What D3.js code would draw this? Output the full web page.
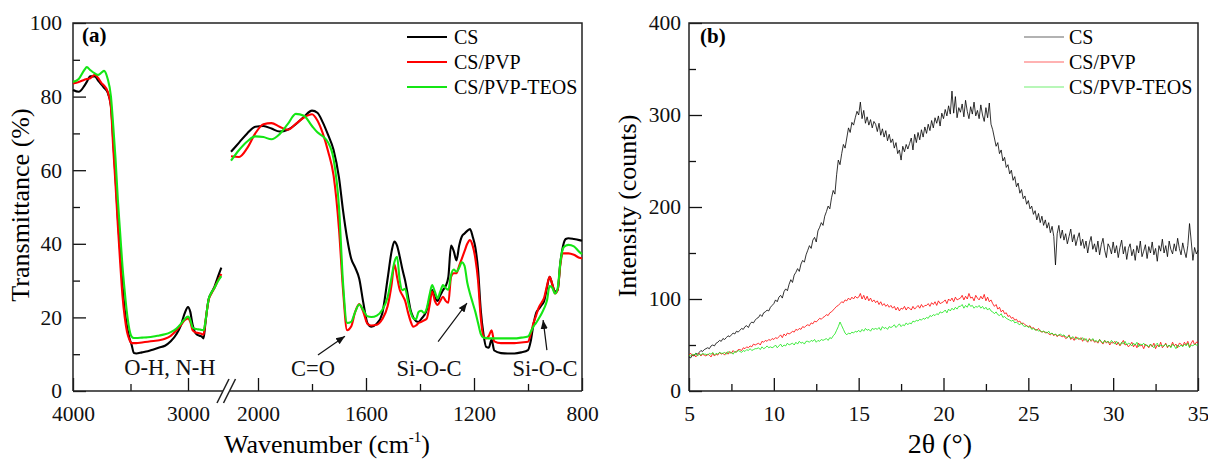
<!DOCTYPE html>
<html>
<head>
<meta charset="utf-8">
<script src="https://cdn.jsdelivr.net/npm/d3@7"></script>
<style>
  body { margin: 0; background: #fff; }
  svg { display: block; font-family: "Liberation Serif", "Times New Roman", serif; }
</style>
</head>
<body>
<svg id="chart" width="1208" height="461"></svg>
<script>
// ---------- data ----------

// (a) FTIR, broken wavenumber axis: high range and low range
const wnSeg1 = [4000, 3950, 3900, 3880, 3850, 3810, 3780, 3750, 3730, 3700, 3670, 3650, 3630, 3610, 3590, 3570, 3550, 3530, 3510, 3490, 3470, 3450, 3400, 3350, 3300, 3250, 3200, 3150, 3100, 3060, 3030, 3000, 2980, 2960, 2940, 2920, 2900, 2880, 2865, 2850, 2835, 2820, 2800, 2770, 2740, 2710];
const csSeg1 = [81.8, 81.3, 83, 84, 85.5, 85.5, 84.3, 83.2, 82.4, 81.2, 77.5, 68, 58, 47, 38, 29, 22, 17.5, 14.5, 12.5, 10.3, 10.2, 10.5, 10.8, 11.3, 11.8, 12.3, 13.5, 15.5, 18, 21, 22.8, 21.5, 18, 16, 15.3, 15, 14.8, 14.3, 18, 22, 25, 26.5, 28.3, 31, 33.5];
const pvpSeg1 = [83.6, 84, 84.6, 84.8, 85, 85.9, 85, 83.6, 83, 81.5, 77, 66, 56, 45, 35, 26, 20, 16, 14, 13, 13, 13, 13.2, 13.4, 13.6, 13.8, 14.2, 15, 16.5, 18, 19.2, 19.7, 18.8, 16.5, 16, 15.8, 15.7, 15.5, 15.3, 18.5, 22, 24.8, 26.3, 28, 30, 31.8];
const teosSeg1 = [84, 84.8, 87.3, 88, 87.2, 86.3, 85.9, 86.6, 87, 85, 80, 72, 63, 52, 43, 34, 27, 21, 16.8, 14.8, 14.4, 14.4, 14.5, 14.6, 14.8, 15.1, 15.4, 16, 17, 18.3, 19.5, 20.2, 19.3, 17.3, 16.9, 16.8, 16.7, 16.6, 16.5, 18.5, 22, 25, 26.5, 28, 29.8, 31.2];

const wnSeg2 = [2100, 2070, 2040, 2010, 1980, 1950, 1920, 1890, 1860, 1830, 1800, 1780, 1760, 1740, 1720, 1700, 1685, 1670, 1655, 1640, 1625, 1610, 1595, 1580, 1560, 1540, 1520, 1505, 1495, 1485, 1475, 1465, 1455, 1445, 1435, 1425, 1415, 1405, 1395, 1385, 1375, 1365, 1355, 1345, 1335, 1325, 1315, 1305, 1295, 1285, 1275, 1265, 1255, 1245, 1235, 1225, 1215, 1205, 1195, 1185, 1175, 1165, 1155, 1145, 1135, 1125, 1100, 1075, 1050, 1025, 1000, 990, 980, 970, 960, 950, 940, 930, 920, 910, 900, 890, 880, 870, 860, 850, 830, 810, 800];
const csSeg2 = [65, 67.5, 70, 71.8, 72, 71.3, 70.5, 71, 72.5, 74.5, 76.2, 75.6, 73, 69.5, 65.5, 58, 49, 41.5, 36, 33.5, 30.5, 24, 18.5, 17.5, 18.3, 21, 30.5, 38, 40.6, 39.5, 36.5, 33, 30, 26, 22, 20, 19, 18.8, 19.6, 20.5, 22, 25, 27.4, 25.5, 24.5, 26, 27.4, 28.5, 31, 39.5, 38, 35.5, 39.5, 42, 42.8, 43.5, 44, 42, 39, 33, 22, 15.5, 12, 11.8, 14, 11, 10.3, 10.2, 10.2, 10.5, 11.1, 13.5, 18, 21.2, 22.3, 23.3, 24.5, 28, 31, 29, 27, 27.5, 35, 39.5, 41.3, 41.5, 41.3, 41, 40.8];
const pvpSeg2 = [63.8, 63.6, 66, 70, 72.5, 72.8, 71.8, 71, 72.6, 74.3, 75.2, 73.5, 70, 65, 58.5, 44, 27.4, 16.5, 17.5, 21.5, 23.6, 21.5, 18.3, 17.8, 18, 19.5, 23, 29, 34.5, 31, 27.5, 26, 24.5, 21.5, 19, 17.5, 17.8, 18.5, 18.8, 19.2, 19.7, 23, 27, 24.5, 23.4, 24.5, 25.6, 24.5, 24, 31, 32, 32, 34, 36, 38, 40, 41, 39.5, 36, 30, 20, 14.8, 14.3, 15, 16.5, 13.5, 13, 13, 13, 13.2, 13.4, 15.5, 18.4, 20.5, 22.7, 24, 25.4, 28.5, 31, 29, 26.5, 27.5, 34.5, 37.4, 37.4, 37.4, 37, 36.2, 36];
const teosSeg2 = [62.6, 65.5, 67.8, 69.2, 69, 68.4, 69.8, 72.5, 75.3, 74.8, 72, 70.3, 69.2, 67.5, 63, 50, 29.3, 18.5, 18.8, 21.5, 23.5, 22, 20.3, 20.1, 20.5, 22, 25.5, 31, 35, 36.5, 30, 27.4, 27.8, 24.5, 21.5, 19.8, 19.5, 21.5, 21.8, 21.2, 22.5, 26, 28.8, 27, 25.2, 27, 28.8, 28, 27.5, 31.5, 33, 32.4, 33.5, 35, 34, 29.5, 26.5, 24, 21.5, 18.5, 15.5, 14.5, 14.4, 14.3, 14.3, 14.3, 14.3, 14.3, 14.3, 14.5, 14.8, 16, 17.5, 18.5, 19.7, 21, 22.5, 24.5, 28.5, 28, 26.5, 28, 35, 38.8, 39.5, 39.7, 39.3, 37.8, 37.2];

const ftirMajor = [4000, 3000, 2000, 1600, 1200, 800];
const ftirMinor = [3500, 1800, 1400, 1000];
const transMajor = [0, 20, 40, 60, 80, 100];
const transMinor = [10, 30, 50, 70, 90];

// band labels: [text, wavenumber, T] and arrows: [wn tail, T tail, wn head, T head]
const bandLabels = [["O-H, N-H", 3157, 4.3], ["C=O", 1796, 4.1], ["Si-O-C", 1367, 4.1], ["Si-O-C", 937, 4.1]];
const bandArrows = [[1778, 9.8, 1678, 14.9], [1333, 13.4, 1226, 23.9], [930, 11.1, 944, 19.3]];

// (b) XRD, 2theta 5..35 step 0.1
const csXrd = [
  37,36,39,38,41,40,42,44,43,45,
  46,47,46,49,50,49,52,53,55,54,
  57,56,58,60,59,61,63,62,65,64,
  66,68,67,70,71,69,73,75,74,77,
  79,80,83,81,85,86,88,87,91,93,
  95,99,97,102,104,101,108,111,109,116,
  121,118,126,129,133,130,138,142,140,148,
  153,158,155,164,167,162,174,178,183,180,
  190,195,201,198,210,218,214,235,251,246,
  258,268,264,275,286,281,292,289,297,304,
  300,314,296,305,291,298,289,295,286,293,
  290,282,291,278,285,276,283,272,279,270,
  274,264,270,258,262,251,266,260,268,263,
  269,275,262,279,270,281,273,284,276,287,
  280,290,283,294,286,297,291,299,288,302,
  296,306,299,310,301,326,302,320,297,308,
  303,312,298,316,304,296,309,301,314,299,
  305,296,311,300,293,308,297,313,290,284,
  275,266,270,258,262,250,254,243,246,236,
  240,229,233,222,226,215,219,209,212,203,
  207,198,201,192,196,186,193,183,190,180,
  186,177,183,172,179,168,137,171,180,166,
  175,164,171,160,168,176,162,170,158,166,
  172,158,165,155,163,150,161,168,154,160,
  151,163,148,159,166,153,145,160,156,149,
  162,150,158,145,156,164,149,157,143,155,
  160,147,154,142,158,150,163,146,152,159,
  144,157,150,162,148,155,141,158,152,165,
  150,158,146,163,154,149,160,152,166,155,
  148,161,152,145,158,182,163,142,156,149,
  153];
const pvpXrd = [
  39,41,38,40,37,39,41,38,40,39,
  38,40,39,37,41,38,40,39,42,40,
  41,39,42,40,43,41,44,42,43,45,
  45,44,47,46,48,47,49,48,51,50,
  51,52,50,54,53,55,54,56,55,57,
  56,58,57,59,61,58,62,60,63,62,
  63,65,64,67,66,68,67,70,69,71,
  72,71,74,73,76,75,77,79,78,80,
  81,83,82,85,86,88,90,92,93,95,
  97,96,99,98,101,99,102,100,103,101,
  102,106,100,104,99,103,98,101,97,99,
  96,98,94,97,93,95,92,94,91,93,
  90,92,88,91,87,90,89,92,88,91,
  90,88,92,89,91,93,90,94,91,93,
  93,95,92,96,94,97,93,98,95,96,
  97,99,95,100,98,101,97,102,99,100,
  101,104,99,103,100,106,101,102,98,104,
  101,99,103,100,105,98,102,97,99,95,
  92,94,89,91,86,88,84,85,81,82,
  79,80,77,78,75,76,73,74,72,71,
  70,71,68,69,67,66,68,65,64,65,
  63,64,62,61,63,60,62,59,61,60,
  59,60,57,58,61,56,58,55,59,57,
  56,58,54,57,55,53,57,54,56,53,
  54,52,56,53,51,55,52,54,50,53,
  52,54,50,53,49,52,55,50,51,48,
  50,53,48,51,47,52,49,50,46,51,
  49,47,51,48,52,46,50,48,53,47,
  49,52,47,50,48,53,49,51,47,52,
  51,49,53,50,54,48,52,55,50,53,
  53];
const teosXrd = [
  39,38,40,39,41,38,40,39,41,40,
  40,39,41,40,42,39,41,40,42,41,
  41,42,40,43,41,42,40,43,42,44,
  43,42,44,43,45,44,46,44,45,46,
  46,47,45,48,46,47,49,47,48,47,
  48,50,47,49,51,48,50,49,52,50,
  51,52,50,53,51,54,52,53,51,54,
  54,53,55,54,56,53,55,54,56,55,
  56,57,55,58,57,60,62,66,70,75,
  71,67,63,61,63,62,64,63,65,64,
  66,64,67,65,68,66,67,65,68,67,
  68,67,69,66,70,68,69,67,70,69,
  70,72,69,71,73,70,72,71,74,72,
  74,73,76,75,77,76,78,77,79,78,
  80,79,82,81,83,82,84,83,86,85,
  86,88,85,89,87,90,88,91,89,92,
  92,94,90,93,91,95,92,93,90,92,
  91,93,90,92,89,91,88,90,87,86,
  84,86,83,82,84,80,81,79,78,77,
  76,77,74,75,73,72,74,71,70,71,
  69,70,67,68,66,67,65,66,64,65,
  64,63,65,62,63,61,62,60,61,62,
  60,61,59,58,60,57,59,58,56,58,
  57,56,58,55,57,54,56,55,57,54,
  55,53,56,54,52,55,53,54,52,55,
  53,51,54,52,50,53,51,54,50,52,
  51,49,52,50,53,48,51,50,52,49,
  50,48,51,49,47,50,52,48,50,49,
  49,51,48,50,47,51,49,46,50,48,
  50,48,51,49,52,47,50,49,51,50,
  50];
const angleMajor = [5, 10, 15, 20, 25, 30, 35];
const angleMinor = [7.5, 12.5, 17.5, 22.5, 27.5, 32.5];
const countMajor = [0, 100, 200, 300, 400];
const countMinor = [50, 150, 250, 350];

const seriesNames = ["CS", "CS/PVP", "CS/PVP-TEOS"];
const seriesColors = ["#000000", "#ff0000", "#14e614"];

// ---------- drawing ----------
const svg = d3.select('#chart');
const tickFont = 21.5;

function styleAxis(g) {
  g.select('.domain').remove();
  g.selectAll('line').attr('stroke', '#111').attr('stroke-width', 1.3);
  g.selectAll('text').attr('font-family', '"Liberation Serif", serif').attr('font-size', tickFont).attr('fill', '#111');
}

function frame(g, x0, x1, y0, y1) {
  g.append('path')
    .attr('d', `M${x0},${y1}V${y0}H${x1}V${y1}`)
    .attr('fill', 'none').attr('stroke', '#222').attr('stroke-width', 1.5);
}

// ---- panel (a)
const xa = d3.scaleLinear().domain([4000, 2700, 2100, 800]).range([73, 222.5, 231, 582]);
const ya = d3.scaleLinear().domain([0, 100]).range([391, 23]);
const pa = svg.append('g');

pa.append('g').attr('transform', `translate(0,${ya(0)})`)
  .call(d3.axisBottom(xa).tickValues(ftirMajor).tickSize(-13).tickPadding(15).tickFormat(d3.format('d')))
  .call(styleAxis);
pa.append('g').attr('transform', `translate(0,${ya(0)})`)
  .call(d3.axisBottom(xa).tickValues(ftirMinor).tickSize(-7).tickFormat(''))
  .call(styleAxis);
pa.append('g').attr('transform', `translate(${xa(4000)},0)`)
  .call(d3.axisLeft(ya).tickValues(transMajor).tickSize(-13).tickPadding(11))
  .call(styleAxis);
pa.append('g').attr('transform', `translate(${xa(4000)},0)`)
  .call(d3.axisLeft(ya).tickValues(transMinor).tickSize(-7).tickFormat(''))
  .call(styleAxis);

frame(pa, xa(4000), xa(800), ya(100), ya(0));
// bottom axis with break
const gapL = xa(2700) + 0.5, gapR = xa(2100) - 1.5;
pa.append('path')
  .attr('d', `M${xa(4000)},${ya(0)}H${gapL}M${gapR},${ya(0)}H${xa(800)}`)
  .attr('stroke', '#222').attr('stroke-width', 1.5);
[gapL, gapR].forEach(bx => {
  pa.append('line')
    .attr('x1', bx - 6).attr('y1', ya(0) + 12)
    .attr('x2', bx + 6).attr('y2', ya(0) - 12)
    .attr('stroke', '#222').attr('stroke-width', 1.5);
});

const ftirLine = d3.line().x(d => xa(d[0])).y(d => ya(d[1])).curve(d3.curveMonotoneX);
const ftirSets = [[csSeg1, csSeg2], [pvpSeg1, pvpSeg2], [teosSeg1, teosSeg2]];
ftirSets.forEach((s, i) => {
  [[wnSeg1, s[0]], [wnSeg2, s[1]]].forEach(([wn, t]) => {
    pa.append('path')
      .attr('d', ftirLine(d3.zip(wn, t)))
      .attr('fill', 'none')
      .attr('stroke', seriesColors[i])
      .attr('stroke-width', 2.1)
      .attr('stroke-linejoin', 'round');
  });
});

// band labels and arrows
svg.append('defs').append('marker')
  .attr('id', 'head').attr('viewBox', '0 0 10 10')
  .attr('refX', 10).attr('refY', 5)
  .attr('markerWidth', 9).attr('markerHeight', 9)
  .attr('markerUnits', 'userSpaceOnUse')
  .attr('orient', 'auto')
  .append('path').attr('d', 'M0,1L10,5L0,9Z').attr('fill', '#111');

bandLabels.forEach(([txt, wn, t]) => {
  pa.append('text')
    .attr('x', xa(wn)).attr('y', ya(t))
    .attr('text-anchor', 'middle')
    .attr('font-size', 22.5).attr('fill', '#111')
    .text(txt);
});
bandArrows.forEach(([w1, t1, w2, t2]) => {
  pa.append('line')
    .attr('x1', xa(w1)).attr('y1', ya(t1))
    .attr('x2', xa(w2)).attr('y2', ya(t2))
    .attr('stroke', '#111').attr('stroke-width', 1.2)
    .attr('marker-end', 'url(#head)');
});

pa.append('text').attr('x', 82).attr('y', 42)
  .attr('font-size', 21).attr('font-weight', 'bold').text('(a)');

pa.append('text')
  .attr('transform', 'translate(29,205) rotate(-90)')
  .attr('text-anchor', 'middle').attr('font-size', 26)
  .text('Transmittance (%)');

const xla = pa.append('text').attr('x', 327).attr('y', 453)
  .attr('text-anchor', 'middle').attr('font-size', 26);
xla.append('tspan').text('Wavenumber (cm');
xla.append('tspan').attr('font-size', 15).attr('dy', -11).text('-1');
xla.append('tspan').attr('dy', 11).text(')');

// legend (a)
seriesNames.forEach((n, i) => {
  const y = 37 + i * 25;
  pa.append('line').attr('x1', 407).attr('x2', 447).attr('y1', y).attr('y2', y)
    .attr('stroke', seriesColors[i]).attr('stroke-width', 2.1);
  pa.append('text').attr('x', 454).attr('y', y + 6.5)
    .attr('font-size', 20).text(n);
});

// ---- panel (b)
const xb = d3.scaleLinear().domain([5, 35]).range([689, 1198]);
const yb = d3.scaleLinear().domain([0, 400]).range([391, 23]);
const pb = svg.append('g');

pb.append('g').attr('transform', `translate(0,${yb(0)})`)
  .call(d3.axisBottom(xb).tickValues(angleMajor).tickSize(-13).tickPadding(15))
  .call(styleAxis);
pb.append('g').attr('transform', `translate(0,${yb(0)})`)
  .call(d3.axisBottom(xb).tickValues(angleMinor).tickSize(-7).tickFormat(''))
  .call(styleAxis);
pb.append('g').attr('transform', `translate(${xb(5)},0)`)
  .call(d3.axisLeft(yb).tickValues(countMajor).tickSize(-13).tickPadding(8))
  .call(styleAxis);
pb.append('g').attr('transform', `translate(${xb(5)},0)`)
  .call(d3.axisLeft(yb).tickValues(countMinor).tickSize(-7).tickFormat(''))
  .call(styleAxis);

frame(pb, xb(5), xb(35), yb(400), yb(0));
pb.append('line').attr('x1', xb(5)).attr('x2', xb(35)).attr('y1', yb(0)).attr('y2', yb(0))
  .attr('stroke', '#222').attr('stroke-width', 1.5);

const angles = d3.range(csXrd.length).map(i => 5 + i / 10);
const xrdLine = d3.line().x(d => xb(d[0])).y(d => yb(d[1]));
[csXrd, pvpXrd, teosXrd].forEach((vals, i) => {
  pb.append('path')
    .attr('d', xrdLine(d3.zip(angles, vals)))
    .attr('fill', 'none')
    .attr('stroke', seriesColors[i])
    .attr('stroke-width', 0.8);
});

pb.append('text').attr('x', 700).attr('y', 43)
  .attr('font-size', 21).attr('font-weight', 'bold').text('(b)');

pb.append('text')
  .attr('transform', 'translate(636,206) rotate(-90)')
  .attr('text-anchor', 'middle').attr('font-size', 26)
  .text('Intensity (counts)');

pb.append('text').attr('x', 940).attr('y', 453)
  .attr('text-anchor', 'middle').attr('font-size', 28)
  .text('2θ (°)');

seriesNames.forEach((n, i) => {
  const y = 37 + i * 25;
  pb.append('line').attr('x1', 1024).attr('x2', 1064).attr('y1', y).attr('y2', y)
    .attr('stroke', seriesColors[i]).attr('stroke-width', 1).attr('opacity', 0.6);
  pb.append('text').attr('x', 1069).attr('y', y + 6.5)
    .attr('font-size', 20).text(n);
});
</script>
</body>
</html>
